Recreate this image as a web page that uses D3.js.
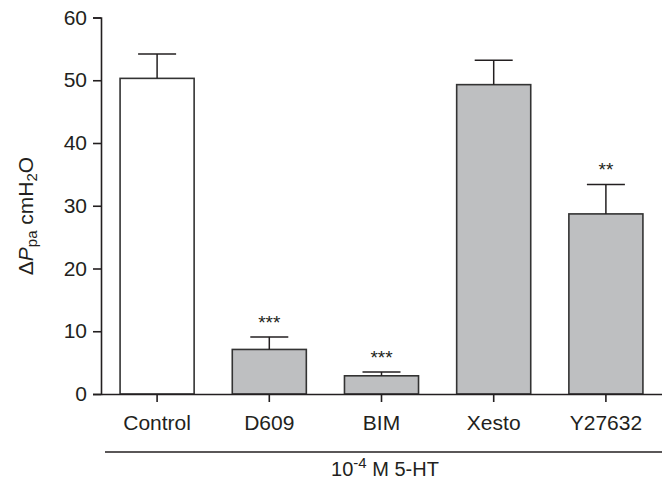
<!DOCTYPE html>
<html>
<head>
<meta charset="utf-8">
<script src="https://cdn.jsdelivr.net/npm/d3@7"></script>
<style>
  body { margin: 0; background: #fff; }
  svg text { font-family: 'Liberation Sans', Arial, sans-serif; fill: #231f20; }
</style>
</head>
<body>
<div id="chart"></div>
<script>
const categories = ['Control', 'D609', 'BIM', 'Xesto', 'Y27632']
const means = [50.3, 7.1, 2.9, 49.3, 28.7]
const errors = [3.9, 2.0, 0.6, 3.9, 4.7]
const stars = ['', '***', '***', '', '**']
const yTicks = [0, 10, 20, 30, 40, 50, 60]

const width = 662
const height = 481
const axisColor = '#231f20'
const fontSize = '21px'

const svg = d3.select('#chart')
  .append('svg')
  .attr('width', width)
  .attr('height', height)

const x = d3.scaleBand()
  .domain(categories)
  .range([101, 662])
  .paddingInner(0.34)
  .paddingOuter(0.17)

const y = d3.scaleLinear()
  .domain([0, 60])
  .range([394, 17.5])

// y axis
const yAxis = svg.append('g')
  .attr('transform', 'translate(101, 0)')
  .call(d3.axisLeft(y).tickValues(yTicks).tickSize(8).tickPadding(6))
yAxis.select('.domain').attr('stroke', axisColor).attr('stroke-width', 1.6)
yAxis.selectAll('.tick line').attr('stroke', axisColor).attr('stroke-width', 1.6)
yAxis.selectAll('.tick text').style('font-size', fontSize).attr('fill', axisColor)

// bars
svg.append('g')
  .selectAll('rect')
  .data(categories)
  .join('rect')
  .attr('x', (d) => x(d))
  .attr('y', (d, i) => y(means[i]))
  .attr('width', x.bandwidth())
  .attr('height', (d, i) => y(0) - y(means[i]))
  .attr('fill', (d, i) => i === 0 ? '#ffffff' : '#bebfc1')
  .attr('stroke', '#333333')
  .attr('stroke-width', 1.6)

// error bars (upper only)
const err = svg.append('g')
  .selectAll('g')
  .data(categories)
  .join('g')
err.append('line')
  .attr('x1', (d) => x(d) + x.bandwidth() / 2)
  .attr('x2', (d) => x(d) + x.bandwidth() / 2)
  .attr('y1', (d, i) => y(means[i]))
  .attr('y2', (d, i) => y(means[i] + errors[i]))
  .attr('stroke', axisColor)
  .attr('stroke-width', 1.5)
err.append('line')
  .attr('x1', (d) => x(d) + x.bandwidth() / 2 - 19)
  .attr('x2', (d) => x(d) + x.bandwidth() / 2 + 19)
  .attr('y1', (d, i) => y(means[i] + errors[i]))
  .attr('y2', (d, i) => y(means[i] + errors[i]))
  .attr('stroke', axisColor)
  .attr('stroke-width', 1.5)

// significance stars
svg.append('g')
  .selectAll('text')
  .data(categories)
  .join('text')
  .attr('x', (d) => x(d) + x.bandwidth() / 2)
  .attr('y', (d, i) => y(means[i] + errors[i]) - 8)
  .attr('text-anchor', 'middle')
  .style('font-size', '19px')
  .text((d, i) => stars[i])

// x axis
const xAxis = svg.append('g')
  .attr('transform', `translate(0, ${y(0)})`)
  .call(d3.axisBottom(x).tickSize(8).tickSizeOuter(0).tickPadding(13))
xAxis.select('.domain').attr('stroke', axisColor).attr('stroke-width', 1.6)
xAxis.selectAll('.tick line').attr('stroke', axisColor).attr('stroke-width', 1.6)
xAxis.selectAll('.tick text').style('font-size', fontSize).attr('fill', axisColor)

// group bracket line
svg.append('line')
  .attr('x1', 105)
  .attr('x2', 662)
  .attr('y1', 452)
  .attr('y2', 452)
  .attr('stroke', axisColor)
  .attr('stroke-width', 1.6)

const groupLabel = svg.append('text')
  .attr('x', 385)
  .attr('y', 476)
  .attr('text-anchor', 'middle')
  .style('font-size', '20px')
groupLabel.append('tspan').text('10')
groupLabel.append('tspan').attr('dy', -8).style('font-size', '15px').text('-4')
groupLabel.append('tspan').attr('dy', 8).text(' M 5-HT')

// y axis title
const yLabel = svg.append('text')
  .attr('transform', 'translate(33, 216) rotate(-90)')
  .attr('text-anchor', 'middle')
  .style('font-size', fontSize)
yLabel.append('tspan').text('\u0394')
yLabel.append('tspan').style('font-style', 'italic').text('P')
yLabel.append('tspan').attr('dy', 4).style('font-size', '15px').text('pa')
yLabel.append('tspan').attr('dy', -4).text(' cmH')
yLabel.append('tspan').attr('dy', 4).style('font-size', '15px').text('2')
yLabel.append('tspan').attr('dy', -4).text('O')
</script>
</body>
</html>
